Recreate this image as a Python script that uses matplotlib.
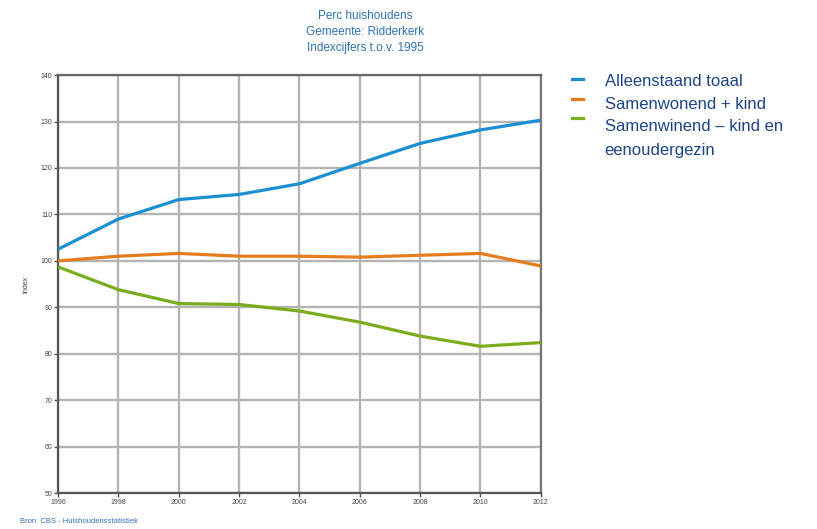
import matplotlib
matplotlib.use("Agg")
import matplotlib.pyplot as plt
from matplotlib.lines import Line2D

plt.rcParams['font.family'] = ['Liberation Sans', 'DejaVu Sans']

# data (index, 1995 = 100)
years = [1996, 1998, 2000, 2002, 2004, 2006, 2008, 2010, 2012]
alleenstaand = [102.5, 109.0, 113.2, 114.3, 116.6, 121.0, 125.3, 128.2, 130.3]
samenwonend_kind = [100.0, 101.0, 101.6, 101.0, 101.0, 100.8, 101.2, 101.6, 98.9]
samenwonend_zonder = [98.7, 93.8, 90.8, 90.6, 89.2, 86.8, 83.8, 81.6, 82.4]

series_labels = ['Alleenstaand toaal', 'Samenwonend + kind',
                 'Samenwinend \u2013 kind en\neenoudergezin']
series_colors = ['#1b8fd2', '#e57c1f', '#7aac1e']
y_ticks = [50, 60, 70, 80, 90, 100, 110, 120, 130, 140]

title_color = '#2f74b5'
legend_text_color = '#1c4587'

fig = plt.figure(figsize=[8.17, 5.29], dpi=100)
ax = fig.add_axes([0.071, 0.068, 0.591, 0.790])

for values, color in zip([alleenstaand, samenwonend_kind, samenwonend_zonder], series_colors):
    ax.plot(years, values, color=color, linewidth=2.3, solid_capstyle='butt', zorder=3)

ax.set_xlim(1996, 2012)
ax.set_ylim(50, 140)
ax.set_xticks(years)
ax.set_yticks(y_ticks)
ax.tick_params(labelsize=5, length=3, width=1, color='#555555', labelcolor='#444444', pad=1)
ax.grid(True, color='#b4b4b4', linewidth=1.7)
for side in ['left', 'bottom', 'right', 'top']:
    ax.spines[side].set_color('#555555')
    ax.spines[side].set_linewidth(1.6)
ax.spines['right'].set_color('#777777')
ax.spines['top'].set_color('#666666')
ax.set_ylabel('Index', fontsize=5, color='#444444', labelpad=8)

# title in three lines
fig.text(0.447, 0.981, 'Perc huishoudens\nGemeente: Ridderkerk\nIndexcijfers t.o.v. 1995',
         ha='center', va='top', fontsize=8.5, color=title_color, linespacing=1.45)

# source line
fig.text(0.025, 0.015, 'Bron  CBS - Huishoudensstatistiek', fontsize=5.5,
         color=title_color, ha='left', va='center')

# manual legend at the right: handle y, then text line centres
handle_y = [0.851, 0.813, 0.777]
text_y = [0.845, 0.803, 0.760]
line_step = 0.044
for label, color, hy, ty in zip(series_labels, series_colors, handle_y, text_y):
    fig.add_artist(Line2D([0.700, 0.714], [hy, hy], color=color, linewidth=2.3,
                          transform=fig.transFigure))
    for i, part in enumerate(label.split('\n')):
        fig.text(0.740, ty - i * line_step, part, fontsize=12, color=legend_text_color,
                 ha='left', va='center')

fig.savefig('out.png', dpi=100)
